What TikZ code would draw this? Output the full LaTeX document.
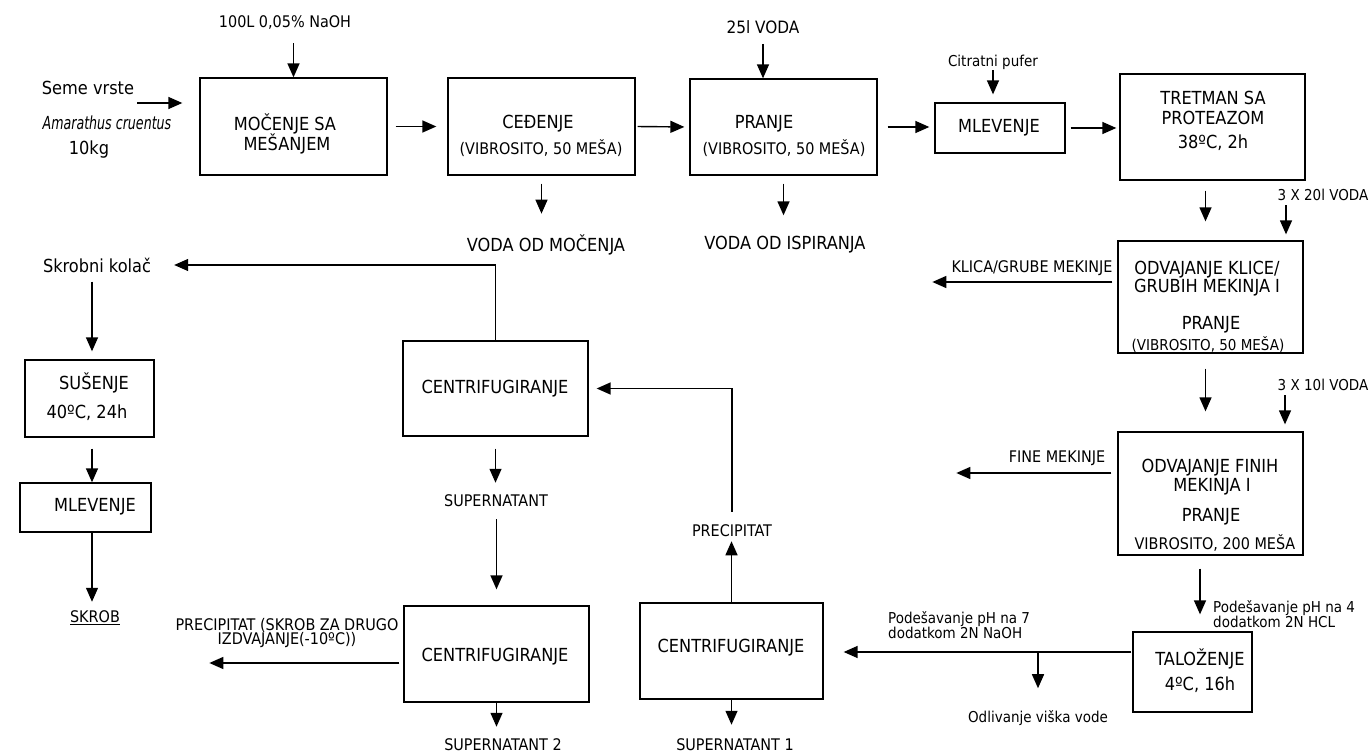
\documentclass[tikz,border=0pt]{standalone}
\usepackage{fontspec}
\usepackage{graphicx}
\setmainfont{DejaVu Sans Condensed}
\usetikzlibrary{arrows.meta,calc}
\newcommand\bigf{\fontsize{18}{17}\selectfont}
\newcommand\smf{\fontsize{16}{14.5}\selectfont}
\newcommand\lcf{\fontsize{15}{14}\selectfont}
\begin{document}
\begin{tikzpicture}[x=1pt,y=-1pt,
  box/.style={draw,line width=1.3pt,inner sep=0pt},
  arr/.style={line width=1.4pt,-{Triangle[length=14pt,width=12pt]}},
  bt/.style={font=\bigf,inner sep=0pt},
  st/.style={font=\smf,inner sep=0pt},
  lt/.style={font=\lcf,inner sep=0pt}]
\useasboundingbox (0,0) rectangle (1371,754);
% boxes
\node[box,minimum width=187pt,minimum height=97pt] (moc) at (293.5,126.5) {};
\node[box,minimum width=187pt,minimum height=97pt] (ced) at (541.5,126.5) {};
\node[box,minimum width=187pt,minimum height=96pt] (pra) at (783.5,127) {};
\node[box,minimum width=130pt,minimum height=50pt] (mlv) at (1000,128) {};
\node[box,minimum width=185pt,minimum height=106pt] (tre) at (1212.5,127) {};
\node[box,minimum width=185pt,minimum height=112pt] (fa) at (1210.5,297) {};
\node[box,minimum width=185pt,minimum height=123pt] (fb) at (1210.5,493.5) {};
\node[box,minimum width=119pt,minimum height=80pt] (tal) at (1192.5,672) {};
\node[box,minimum width=183pt,minimum height=96pt] (cc) at (731.5,651) {};
\node[box,minimum width=185pt,minimum height=96pt] (cb) at (496.5,654) {};
\node[box,minimum width=185pt,minimum height=95pt] (ca) at (495.5,388.5) {};
\node[box,minimum width=129pt,minimum height=77pt] (sus) at (89.5,398.5) {};
\node[box,minimum width=131pt,minimum height=49pt] (mlw) at (85.5,507.5) {};
% box texts
\node[bt] (mocA) at (285,124) {MOČENJE SA};
\node[bt] (mocB) at (287,144) {MEŠANJEM};
\node[bt] (cedA) at (538,124) {CEĐENJE};
\node[st] (cedB) at (541,148) {(VIBROSITO, 50 MEŠA)};
\node[bt] (praA) at (764,124) {PRANJE};
\node[st] (praB) at (784,148) {(VIBROSITO, 50 MEŠA)};
\node[bt] (mlvA) at (999,128) {MLEVENJE};
\node[bt] (treA) at (1213,98) {TRETMAN SA};
\node[bt] (treB) at (1213,118) {PROTEAZOM};
\node[bt] (treC) at (1213,143) {38ºC, 2h};
\node[bt] (faA) at (1207,270) {ODVAJANJE KLICE/};
\node[bt] (faB) at (1207,288) {GRUBIH MEKINJA I};
\node[bt] (faC) at (1211,325) {PRANJE};
\node[lt] (faD) at (1208,345) {(VIBROSITO, 50 MEŠA)};
\node[bt] (fbA) at (1210,468) {ODVAJANJE FINIH};
\node[bt] (fbB) at (1212,487) {MEKINJA I};
\node[bt] (fbC) at (1211,517) {PRANJE};
\node[st] (fbD) at (1215,543) {VIBROSITO, 200 MEŠA};
\node[bt] (talA) at (1200,659) {TALOŽENJE};
\node[bt] (talB) at (1200,685) {4ºC, 16h};
\node[bt] (ccA) at (731,648) {CENTRIFUGIRANJE};
\node[bt] (cbA) at (495,657) {CENTRIFUGIRANJE};
\node[bt] (caA) at (495,389) {CENTRIFUGIRANJE};
\node[bt] (susA) at (94,383) {SUŠENJE};
\node[bt] (susB) at (87,413) {40ºC, 24h};
\node[bt] (mlwA) at (95,507) {MLEVENJE};
% free labels
\node[st] (naoh) at (285,22) {100L 0,05\% NaOH};
\node[bt] (semeA) at (88,88) {Seme vrste};
\node[bt] (semeB) at (107,123) {\scalebox{0.78}[1]{\itshape Amarathus cruentus}};
\node[bt] (semeC) at (89,150) {10kg};
\node[bt,font=\fontsize{17}{17}\selectfont] (voda25) at (763,27) {25l VODA};
\node[lt] (citr) at (993,62) {Citratni pufer};
\node[bt] (vodam) at (546,245) {VODA OD MOČENJA};
\node[bt] (vodai) at (785,245) {VODA OD ISPIRANJA};
\node[lt] (voda20) at (1323,195) {3 X 20l VODA};
\node[lt] (voda10) at (1323,385) {3 X 10l VODA};
\node[st] (klica) at (1032,268) {KLICA/GRUBE MEKINJE};
\node[st] (fine) at (1057,458) {FINE MEKINJE};
\node[lt,anchor=west,align=left] (ph4) at (1213,614) {Podešavanje pH na 4\\dodatkom 2N HCL};
\node[lt,anchor=west,align=left] (ph7) at (888,625) {Podešavanje pH na 7\\dodatkom 2N NaOH};
\node[lt] (odl) at (1038,718) {Odlivanje viška vode};
\node[st] (sup1) at (735,745) {SUPERNATANT 1};
\node[st] (sup2) at (503,745) {SUPERNATANT 2};
\node[st] (prec) at (732,531) {PRECIPITAT};
\node[bt] (kol) at (97,265) {Skrobni kolač};
\node[st] (skr) at (95,618) {\underline{SKROB}};
\node[st] (sup) at (496,501) {SUPERNATANT};
\node[st,align=center] (prc2) at (287,633) {PRECIPITAT (SKROB ZA DRUGO\\IZDVAJANJE(-10ºC))};
% connectors
\draw[arr,shorten <=14pt] (naoh.south -| moc.north) -- (moc.north);
\coordinate (semeo) at (137,103);
\draw[arr,shorten >=17pt] (semeo) -- (semeo -| moc.west);
\draw[arr,shorten <=8pt,shorten >=11pt] (moc.east) -- (ced.west);
\draw[arr,shorten <=2pt,shorten >=5pt] (ced.east) -- (pra.west);
\draw[arr,shorten <=10pt,shorten >=5pt] (pra.east) -- (pra.east -| mlv.west);
\draw[arr,shorten <=5pt,shorten >=3pt] (mlv.east) -- (mlv.east -| tre.west);
\draw[arr,shorten <=10pt] (voda25.south) -- (voda25.south |- pra.north);
\draw[arr,shorten <=1pt,shorten >=8pt] (citr.south) -- (citr.south |- mlv.north);
\draw[arr,shorten <=8pt,shorten >=21pt] (ced.south) -- (ced.south |- vodam.north);
\draw[arr,shorten <=8pt,shorten >=21pt] (pra.south) -- (pra.south |- vodai.north);
\draw[arr,shorten <=10pt,shorten >=19pt] ([xshift=-7pt]tre.south) -- ([xshift=-7pt]tre.south |- fa.north);
\draw[arr,shorten <=4pt,shorten >=6pt] ([xshift=-37pt]voda20.south) -- ([xshift=-37pt]voda20.south |- fa.north);
\draw[arr,shorten <=5pt] ([yshift=15pt]fa.west) -- ++(-185,0);
\draw[arr,shorten <=15pt,shorten >=20pt] ([xshift=-5pt]fa.south) -- ([xshift=-5pt]fa.south |- fb.north);
\draw[arr,shorten <=4pt,shorten >=7pt] ([xshift=-38pt]voda10.south) -- ([xshift=-38pt]voda10.south |- fb.north);
\draw[arr,shorten <=6pt] ([yshift=20.5pt]fb.west) -- ++(-161,0);
\draw[arr,shorten <=13pt,shorten >=17pt] ([xshift=-10.5pt]fb.south) -- ([xshift=-10.5pt]fb.south |- tal.north);
\coordinate (tw) at ([yshift=20pt]tal.west);
\draw[arr,shorten <=1pt,shorten >=20pt] (tw) -- (tw -| cc.east);
\draw[arr,shorten >=22pt] (tw -| odl.north) -- (odl.north);
\draw[arr,shorten >=14pt] (cc.south) -- (cc.south |- sup1.north);
\draw[arr,shorten >=4pt] (cc.north) -- (cc.north |- prec.south);
\draw[arr,shorten <=13pt,shorten >=8pt] (prec.north) -- (prec.north |- ca.east) -- (ca.east);
\draw[arr,shorten >=23pt] (ca.north) |- (kol.east);
\coordinate (xl) at (92,0);
\draw[arr,shorten <=9pt,shorten >=8pt] (kol.south -| xl) -- (xl |- sus.north);
\draw[arr,shorten <=11pt] (sus.south -| xl) -- (xl |- mlw.north);
\draw[arr,shorten >=9pt] (mlw.south -| xl) -- (xl |- skr.north);
\draw[arr,shorten <=12pt,shorten >=12pt] (ca.south) -- (ca.south |- sup.north);
\draw[arr,shorten <=12pt,shorten >=16pt] (sup.south -| cb.north) -- (cb.north);
\draw[arr,shorten <=4pt] ([yshift=-9pt]cb.west) -- ++(-194,0);
\draw[arr,shorten >=12pt] (cb.south) -- (cb.south |- sup2.north);
\end{tikzpicture}
\end{document}
